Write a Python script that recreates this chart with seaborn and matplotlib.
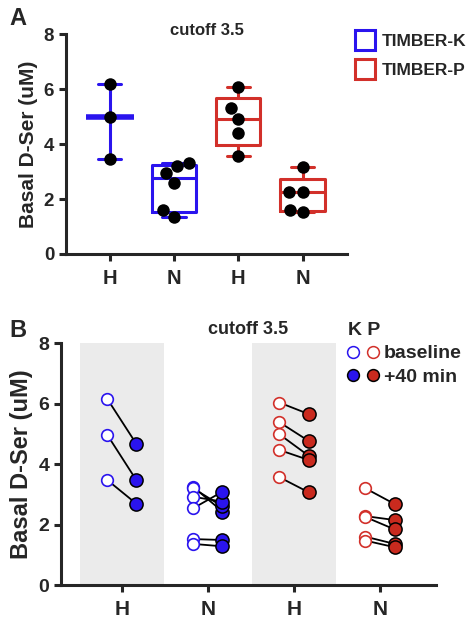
import numpy as np
import pandas as pd
import matplotlib
matplotlib.use("Agg")
import matplotlib.pyplot as plt
import seaborn as sns
from matplotlib.lines import Line2D
from matplotlib.legend_handler import HandlerTuple

# categories / labels
groups = ["K-H", "K-N", "P-H", "P-N"]
tick_labels = ["H", "N", "H", "N"]
lines_of = {"K-H": "K", "K-N": "K", "P-H": "P", "P-N": "P"}

# panel A values (basal D-Ser, uM)
a_kh = [6.2, 5.0, 3.45]
a_kn = [3.2, 3.3, 2.95, 2.6, 1.6, 1.35]
a_ph = [6.07, 5.3, 4.92, 4.39, 3.57]
a_pn = [3.18, 2.25, 2.27, 1.6, 1.53]

# panel B paired values: baseline and +40 min
b_kh_base = [6.17, 4.98, 3.48]
b_kh_40 = [4.67, 3.47, 2.69]
b_kn_base = [3.25, 3.2, 2.92, 2.54, 1.52, 1.36]
b_kn_40 = [2.43, 2.6, 2.76, 3.09, 1.49, 1.28]
b_ph_base = [6.04, 5.39, 4.99, 4.47, 3.57]
b_ph_40 = [5.66, 4.77, 4.28, 4.14, 3.07]
b_pn_base = [3.2, 2.28, 2.25, 1.6, 1.47]
b_pn_40 = [2.68, 2.15, 1.84, 1.36, 1.25]

blue = "#2a14ee"
red = "#d2302a"
red_fill = "#c92a1e"
pal = {"K": blue, "P": red}

sns.set_style("ticks")
plt.rcParams["font.family"] = ["Liberation Sans", "DejaVu Sans"]
plt.rcParams["font.weight"] = "bold"
plt.rcParams["axes.labelweight"] = "bold"
plt.rcParams["axes.linewidth"] = 2.2

fig = plt.figure(figsize=(4.73, 6.24), dpi=100)

# ---------------- panel A ----------------
rows = []
for g, vals in zip(groups, [a_kh, a_kn, a_ph, a_pn]):
    for v in vals:
        rows.append({"group": g, "line": lines_of[g], "value": v})
dfa = pd.DataFrame(rows)

axA = fig.add_axes([0.1395, 0.593, 0.594, 0.352])

# Prism-style boxes: quartiles with the (n+1) method, whiskers min..max
for i, g in enumerate(groups):
    if g == "K-H":
        continue
    v = dfa.loc[dfa["group"] == g, "value"].to_numpy()
    q1, med, q3 = np.percentile(v, [25, 50, 75], method="weibull")
    st = {"med": med, "q1": q1, "q3": q3, "whislo": v.min(), "whishi": v.max(), "fliers": []}
    c = pal[lines_of[g]]
    axA.bxp([st], positions=[i], widths=0.69, capwidths=0.36, showfliers=False,
            boxprops={"color": c, "linewidth": 2.2},
            whiskerprops={"color": c, "linewidth": 2.2},
            capprops={"color": c, "linewidth": 2.2},
            medianprops={"color": c, "linewidth": 2.2}, manage_ticks=False)

sns.pointplot(data=dfa[dfa["group"] == "K-H"], x="group", y="value", order=groups,
              color=blue, estimator="median", errorbar=("pi", 100), capsize=0.36,
              marker="_", markersize=34, markeredgewidth=4, linestyle="none",
              err_kws={"linewidth": 2.2}, ax=axA)
sns.swarmplot(data=dfa, x="group", y="value", order=groups, color="black",
              size=9, ax=axA, zorder=4)

axA.set_ylim(0, 8)
axA.set_xlim(-0.68, 3.69)
axA.set_yticks([0, 2, 4, 6, 8])
axA.set_xticks(range(4))
axA.set_xticklabels(tick_labels)
axA.set_xlabel("")
axA.set_ylabel("Basal D-Ser (uM)", fontsize=15, labelpad=4)
axA.tick_params(axis="y", labelsize=13.5, width=2.2, length=5)
axA.tick_params(axis="x", labelsize=14.5, width=2.2, length=5, pad=6)
sns.despine(ax=axA)
axA.text(0.5, 1.016, "cutoff 3.5", transform=axA.transAxes, ha="center",
         va="center", fontsize=12, fontweight="bold")

legA_handles = [
    Line2D([], [], marker="s", linestyle="none", markersize=14, markerfacecolor="none",
           markeredgecolor=blue, markeredgewidth=2.2),
    Line2D([], [], marker="s", linestyle="none", markersize=14, markerfacecolor="none",
           markeredgecolor=red, markeredgewidth=2.2),
]
fig.legend(legA_handles, ["TIMBER-K", "TIMBER-P"], loc="upper left",
           bbox_to_anchor=(0.72, 0.97), frameon=False, fontsize=12.5,
           handlelength=1.0, handletextpad=0.5, labelspacing=0.75)

# ---------------- panel B ----------------
brows = []
pairs = {"K-H": (b_kh_base, b_kh_40), "K-N": (b_kn_base, b_kn_40),
         "P-H": (b_ph_base, b_ph_40), "P-N": (b_pn_base, b_pn_40)}
offset = 0.17
for i, g in enumerate(groups):
    base, after = pairs[g]
    for j, (v0, v1) in enumerate(zip(base, after)):
        unit = f"{g}-{j}"
        brows.append({"group": g, "line": lines_of[g], "unit": unit, "time": "baseline",
                      "x": i - offset, "value": v0})
        brows.append({"group": g, "line": lines_of[g], "unit": unit, "time": "+40 min",
                      "x": i + offset, "value": v1})
dfb = pd.DataFrame(brows)

axB = fig.add_axes([0.129, 0.0625, 0.7928, 0.3873])
for i in (0, 2):
    axB.axvspan(i - 0.49, i + 0.49, color="#ebebeb", zorder=0, lw=0)

sns.lineplot(data=dfb, x="x", y="value", units="unit", estimator=None,
             color="black", linewidth=1.3, ax=axB, legend=False, zorder=2)
for ln in ["K", "P"]:
    sub = dfb[dfb["line"] == ln]
    sns.scatterplot(data=sub[sub["time"] == "baseline"], x="x", y="value",
                    color="white", edgecolor=pal[ln], linewidth=1.2, s=70,
                    ax=axB, zorder=3, legend=False)
    sns.scatterplot(data=sub[sub["time"] == "+40 min"], x="x", y="value",
                    color=blue if ln == "K" else red_fill, edgecolor="black",
                    linewidth=1.1, s=90, ax=axB, zorder=3, legend=False)

axB.set_ylim(0, 8)
axB.set_xlim(-0.705, 3.65)
axB.set_yticks([0, 2, 4, 6, 8])
axB.set_xticks(range(4))
axB.set_xticklabels(tick_labels)
axB.set_xlabel("")
axB.set_ylabel("Basal D-Ser (uM)", fontsize=17, labelpad=4)
axB.tick_params(axis="y", labelsize=14, width=2.2, length=5)
axB.tick_params(axis="x", labelsize=15, width=2.2, length=5, pad=6)
sns.despine(ax=axB)
axB.set_title("cutoff 3.5", fontsize=13, fontweight="bold", pad=7)

def circ(fc, ec):
    return Line2D([], [], marker="o", linestyle="none", markersize=8.5,
                  markerfacecolor=fc, markeredgecolor=ec, markeredgewidth=1.1)

legB = fig.legend([(circ("white", blue), circ("white", red)),
                   (circ(blue, "black"), circ(red_fill, "black"))],
                  ["baseline", "+40 min"], loc="upper left",
                  bbox_to_anchor=(0.706, 0.506), frameon=False, fontsize=14,
                  handler_map={tuple: HandlerTuple(ndivide=None, pad=0.4)},
                  handlelength=1.6, handletextpad=0.25, labelspacing=0.3,
                  borderpad=0.2, title="K P", title_fontsize=14, alignment="left")
legB.get_title().set_fontweight("bold")

fig.text(0.02, 0.988, "A", fontsize=17, fontweight="bold", va="top")
fig.text(0.02, 0.488, "B", fontsize=17, fontweight="bold", va="top")

fig.savefig("out.png", dpi=100)
